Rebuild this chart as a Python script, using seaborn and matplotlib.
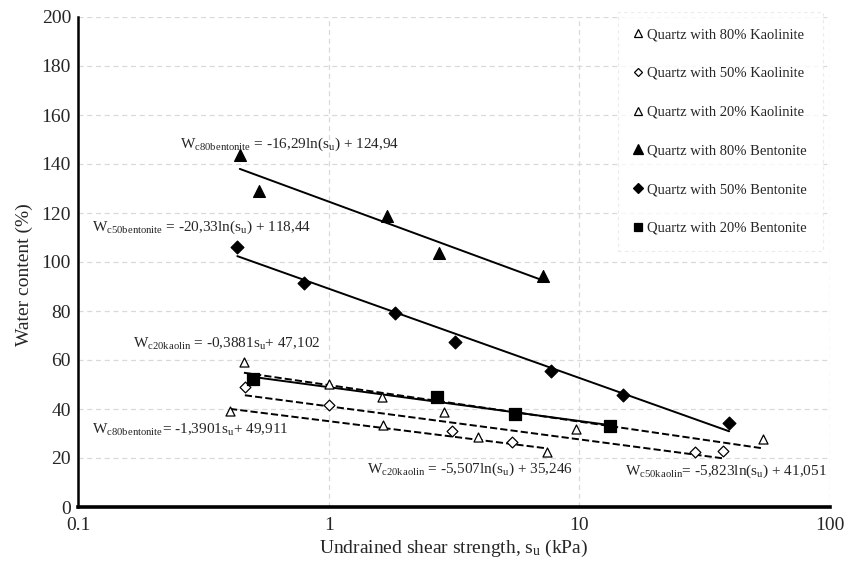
import numpy as np
import pandas as pd
import matplotlib
matplotlib.use("Agg")
import matplotlib.pyplot as plt
from matplotlib.lines import Line2D
import seaborn as sns

# ---- data ----
k80_su = [0.459, 1.0, 1.63, 2.89, 9.69, 53.8]
k80_w = [59.3, 50.2, 45.0, 38.7, 32.0, 27.9]

k50_su = [0.463, 1.0, 3.1, 5.4, 29.0, 37.4]
k50_w = [49.0, 41.8, 31.0, 26.5, 22.5, 22.8]

k20_su = [0.404, 1.65, 3.93, 7.41]
k20_w = [39.2, 33.5, 28.4, 22.6]

b80_su = [0.442, 0.527, 1.71, 2.76, 7.14]
b80_w = [143.7, 129.0, 118.8, 103.8, 94.3]

b50_su = [0.432, 0.797, 1.834, 3.2, 7.71, 14.9, 39.6]
b50_w = [106.3, 91.6, 79.0, 67.2, 55.5, 45.6, 34.2]

b20_su = [0.5, 2.71, 5.53, 13.2]
b20_w = [52.4, 44.8, 37.8, 33.1]

labels = ["Quartz with 80% Kaolinite", "Quartz with 50% Kaolinite",
          "Quartz with 20% Kaolinite", "Quartz with 80% Bentonite",
          "Quartz with 50% Bentonite", "Quartz with 20% Bentonite"]

eq_texts = [
    r"W$_{\mathrm{c80bentonite}}$ = -16,29ln(s$_{\mathrm{u}}$) + 124,94",
    r"W$_{\mathrm{c50bentonite}}$ = -20,33ln(s$_{\mathrm{u}}$) + 118,44",
    r"W$_{\mathrm{c20kaolin}}$ = -0,3881s$_{\mathrm{u}}$+ 47,102",
    r"W$_{\mathrm{c80bentonite}}$= -1,3901s$_{\mathrm{u}}$+ 49,911",
    r"W$_{\mathrm{c20kaolin}}$ = -5,507ln(s$_{\mathrm{u}}$) + 35,246",
    r"W$_{\mathrm{c50kaolin}}$= -5,823ln(s$_{\mathrm{u}}$) + 41,051",
]
eq_x = [0.255, 0.1137, 0.1656, 0.1137, 1.418, 15.2]
eq_y = [148.2, 114.3, 66.5, 31.4, 15.4, 14.4]

# ---- style ----
sns.set_style("white")
plt.rcParams["font.family"] = ["Liberation Serif", "DejaVu Serif"]
plt.rcParams["mathtext.fontset"] = "custom"
plt.rcParams["mathtext.rm"] = "Liberation Serif"
plt.rcParams["mathtext.it"] = "Liberation Serif:italic"
plt.rcParams["mathtext.bf"] = "Liberation Serif:bold"

fig = plt.figure(figsize=(8.58, 5.64), dpi=100)
ax = fig.add_axes([78 / 858, 1 - 507 / 564, (830 - 78) / 858, (507 - 17) / 564])

series = [
    (k80_su, k80_w, "^", "white", 6.5, "--"),
    (k50_su, k50_w, "D", "white", 5.5, "--"),
    (k20_su, k20_w, "^", "white", 6.5, "--"),
    (b80_su, b80_w, "^", "black", 8.5, "-"),
    (b50_su, b50_w, "D", "black", 6.5, "-"),
    (b20_su, b20_w, "s", "black", 8.0, "-"),
]

# trendlines (log fits of the data, as in the spreadsheet)
for su, w, m, fc, ms, ls in series:
    su_a = np.asarray(su)
    a, b = np.polyfit(np.log(su_a), np.asarray(w), 1)
    xs = np.array([su_a.min(), su_a.max()])
    df_line = pd.DataFrame({"x": xs, "y": a * np.log(xs) + b})
    sns.lineplot(data=df_line, x="x", y="y", ax=ax, color="black",
                 linestyle=ls, linewidth=1.4, zorder=2)

for su, w, m, fc, ms, ls in series:
    df_pts = pd.DataFrame({"x": su, "y": w})
    sns.scatterplot(data=df_pts, x="x", y="y", ax=ax, marker=m,
                    s=ms ** 2, facecolor=fc, edgecolor="black",
                    linewidth=0.9, zorder=3)

ax.set_xscale("log")
ax.set_xlim(0.1, 100)
ax.set_ylim(0, 200)
ax.set_xticks([0.1, 1, 10, 100])
ax.set_xticklabels(["0.1", "1", "10", "100"])
ax.minorticks_off()
ax.set_yticks(np.arange(0, 201, 20))
ax.tick_params(axis="both", labelsize=14, length=0)
ax.tick_params(axis="x", pad=7)
ax.tick_params(axis="y", pad=5)

ax.grid(True, which="major", color="#d9d9d9", linestyle=(0, (4, 3)), linewidth=0.9)
ax.set_axisbelow(True)
for sp in ["top", "right"]:
    ax.spines[sp].set_visible(False)
ax.spines["left"].set_linewidth(1.8)
ax.spines["bottom"].set_linewidth(2.6)
ax.spines["left"].set_color("black")
ax.spines["bottom"].set_color("black")

ax.set_xlabel(r"Undrained shear strength, s$_{\mathrm{u}}$ (kPa)", fontsize=14, labelpad=3)
ax.set_ylabel("Water content (%)", fontsize=14)
ax.yaxis.set_label_coords(-45 / 752, 0.475)

for t, x, y in zip(eq_texts, eq_x, eq_y):
    ax.text(x, y, t, fontsize=11, va="center", ha="left", zorder=5)

handles = []
for (su, w, m, fc, ms, ls), lab in zip(series, labels):
    handles.append(Line2D([], [], linestyle="none", marker=m,
                          markerfacecolor=fc, markeredgecolor="black",
                          markeredgewidth=0.9, markersize=ms * 0.8, label=lab))
leg = fig.legend(handles=handles, loc="upper left",
                 bbox_to_anchor=(618 / 858, 1 - 12 / 564),
                 frameon=True, fontsize=10.5, handlelength=0.6,
                 handletextpad=0.3, labelspacing=1.75, borderpad=1.1,
                 borderaxespad=0, fancybox=False)
leg.get_frame().set_edgecolor("#e6e6e6")
leg.get_frame().set_linestyle((0, (3, 3)))
leg.get_frame().set_linewidth(0.8)

fig.savefig("out.png", dpi=100)
